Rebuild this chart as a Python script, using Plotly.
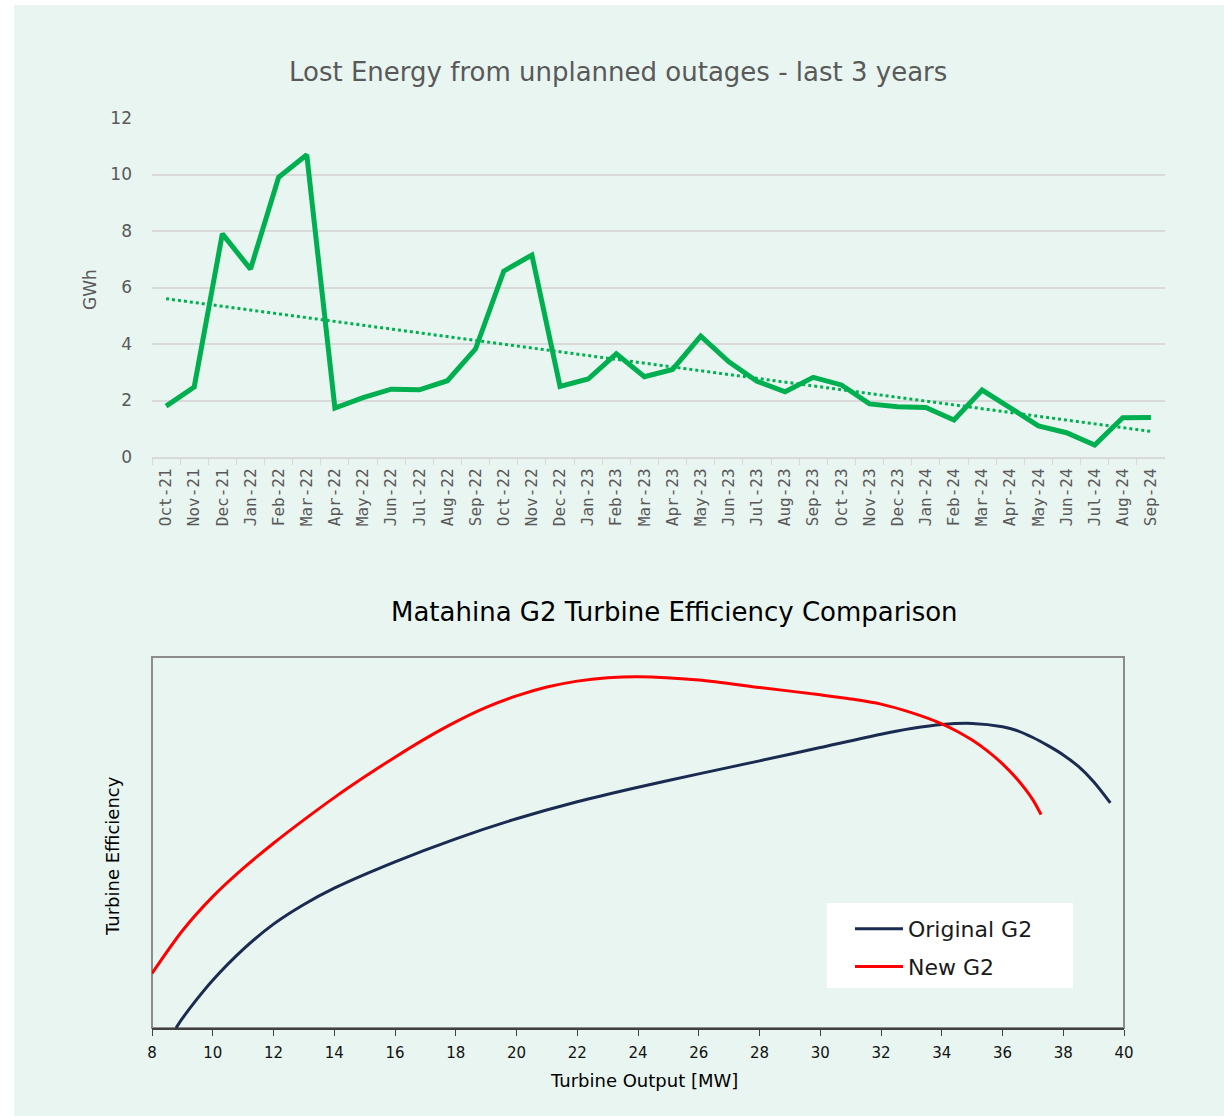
import numpy as np
import plotly.graph_objects as go

W, H = 1224, 1116

months = ["Oct-21","Nov-21","Dec-21","Jan-22","Feb-22","Mar-22","Apr-22","May-22","Jun-22","Jul-22",
          "Aug-22","Sep-22","Oct-22","Nov-22","Dec-22","Jan-23","Feb-23","Mar-23","Apr-23","May-23",
          "Jun-23","Jul-23","Aug-23","Sep-23","Oct-23","Nov-23","Dec-23","Jan-24","Feb-24","Mar-24",
          "Apr-24","May-24","Jun-24","Jul-24","Aug-24","Sep-24"]
lost_gwh = [1.8, 2.48, 7.9, 6.65, 9.9, 10.7, 1.73, 2.1, 2.4, 2.38,
            2.7, 3.83, 6.58, 7.15, 2.5, 2.76, 3.65, 2.84, 3.1, 4.28,
            3.37, 2.68, 2.31, 2.82, 2.55, 1.88, 1.78, 1.75, 1.31, 2.37,
            1.74, 1.1, 0.86, 0.42, 1.39, 1.4]

orig_mw  = [8.79, 9, 9.5, 10, 11, 12, 13, 14, 16, 18, 20, 22, 24, 26, 28, 30, 32, 33, 34, 35,
            36, 36.5, 37, 37.5, 38, 38.5, 39, 39.55]
orig_eff = [0, 2.6, 8.0, 12.9, 21.2, 28.0, 33.3, 37.7, 44.8, 51.0, 56.4, 61.0, 64.9, 68.5, 72.0, 75.6,
            79.2, 80.7, 81.8, 82.1, 81.2, 80.1, 78.3, 76.1, 73.6, 70.5, 66.4, 60.7]
new_mw   = [8, 9, 10, 11, 12, 13, 14, 15, 16, 17, 18, 19, 20, 21, 22, 23, 24, 26, 28, 30, 31, 32, 33, 34,
            34.5, 35, 35.5, 36, 36.5, 37, 37.27]
new_eff  = [14.7, 26.2, 35.4, 43.0, 49.8, 56.1, 62.1, 67.7, 73.0, 78.0, 82.5, 86.4, 89.5, 91.9, 93.5,
            94.4, 94.7, 93.8, 91.8, 89.8, 88.7, 87.3, 85.0, 82.0, 80.0, 77.6, 74.7, 71.2, 66.9, 61.5, 57.5]

# linear trendline (least squares, like Excel)
idx = np.arange(len(lost_gwh))
slope, intercept = np.polyfit(idx, lost_gwh, 1)
trend = slope * idx + intercept

def px(x): return x / W
def py(y): return 1 - y / H

GREEN = "#00B050"
GRAY_TXT = "#595959"
GRID = "#D9D9D9"
FONT = "DejaVu Sans"
MONO = "DejaVu Sans Mono"

fig = go.Figure()
fig.add_trace(go.Scatter(x=months, y=lost_gwh, mode="lines", line=dict(color=GREEN, width=5),
                         xaxis="x", yaxis="y", showlegend=False))
fig.add_trace(go.Scatter(x=months, y=trend, mode="lines", line=dict(color=GREEN, width=3, dash="dot"),
                         xaxis="x", yaxis="y", showlegend=False))
fig.add_trace(go.Scatter(x=orig_mw, y=orig_eff, mode="lines", name="Original G2",
                         line=dict(color="#1B2A50", width=3, shape="spline", smoothing=0.8),
                         xaxis="x2", yaxis="y2", legendgroup="a"))
fig.add_trace(go.Scatter(x=new_mw, y=new_eff, mode="lines", name="New G2",
                         line=dict(color="#FF0000", width=3, shape="spline", smoothing=0.8),
                         xaxis="x2", yaxis="y2", legendgroup="b"))

fig.update_layout(
    width=W, height=H, margin=dict(l=0, r=0, t=0, b=0),
    paper_bgcolor="white", plot_bgcolor="rgba(0,0,0,0)",
    font=dict(family=FONT, color=GRAY_TXT),
    xaxis=dict(domain=[px(152), px(1165)], anchor="y", type="category", range=[-0.5, 35.5],
               showgrid=False, showline=True, linecolor=GRID, linewidth=2,
               ticks="outside", tickson="boundaries", ticklen=6, tickcolor=GRID, tickwidth=1,
               tickangle=-90, ticklabelstandoff=3,
               tickfont=dict(size=16, color=GRAY_TXT, family=MONO), automargin=False),
    yaxis=dict(domain=[py(457), py(118)], anchor="x", range=[0, 12], dtick=2,
               showgrid=True, gridcolor=GRID, gridwidth=2, zeroline=False, showline=False,
               ticklabelstandoff=19,
               tickfont=dict(size=17, color=GRAY_TXT, family=FONT), automargin=False),
    xaxis2=dict(domain=[px(152), px(1124)], anchor="y2", range=[8, 40], dtick=2,
                showgrid=False, zeroline=False, showline=True, linecolor="#404040", linewidth=2,
                ticks="outside", ticklen=6, tickcolor="#404040", ticklabelstandoff=4,
                tickfont=dict(size=15, color="#111111", family=FONT), automargin=False),
    yaxis2=dict(domain=[py(1028), py(657)], anchor="x2", range=[0, 100],
                showgrid=False, zeroline=False, showline=False, showticklabels=False, ticks="",
                automargin=False),
    legend=dict(x=px(850), y=py(908), xanchor="left", yanchor="top", bgcolor="rgba(0,0,0,0)",
                borderwidth=0, font=dict(size=22, color="#1A1A1A", family=FONT),
                tracegroupgap=6, itemwidth=48),
    shapes=[
        dict(type="rect", xref="paper", yref="paper", x0=px(14), x1=1, y0=0, y1=py(5),
             fillcolor="#E8F5F0", line=dict(width=0), layer="below"),
        dict(type="rect", xref="paper", yref="paper", x0=px(152), x1=px(1124), y0=py(1028), y1=py(657),
             fillcolor="rgba(0,0,0,0)", line=dict(color="#8C8C8C", width=2), layer="below"),
        dict(type="rect", xref="paper", yref="paper", x0=px(827), x1=px(1073), y0=py(988), y1=py(903),
             fillcolor="white", line=dict(width=0), layer="above"),
    ],
    annotations=[
        dict(text="Lost Energy from unplanned outages - last 3 years", x=px(618), y=py(72),
             xref="paper", yref="paper", showarrow=False, xanchor="center", yanchor="middle",
             font=dict(size=26, color=GRAY_TXT, family=FONT)),
        dict(text="GWh", x=px(90), y=py(290), xref="paper", yref="paper", showarrow=False,
             textangle=-90, xanchor="center", yanchor="middle",
             font=dict(size=17, color=GRAY_TXT, family=FONT)),
        dict(text="Matahina G2 Turbine Efficiency Comparison", x=px(674), y=py(612),
             xref="paper", yref="paper", showarrow=False, xanchor="center", yanchor="middle",
             font=dict(size=26, color="#000000", family=FONT)),
        dict(text="Turbine Efficiency", x=px(112), y=py(856), xref="paper", yref="paper", showarrow=False,
             textangle=-90, xanchor="center", yanchor="middle",
             font=dict(size=18, color="#000000", family=FONT)),
        dict(text="Turbine Output [MW]", x=px(644), y=py(1080), xref="paper", yref="paper", showarrow=False,
             xanchor="center", yanchor="middle", font=dict(size=18, color="#000000", family=FONT)),
    ],
)

fig.write_html("out.html", config={"displayModeBar": False},
               post_script="document.body.style.margin='0';document.body.style.overflow='hidden';")
